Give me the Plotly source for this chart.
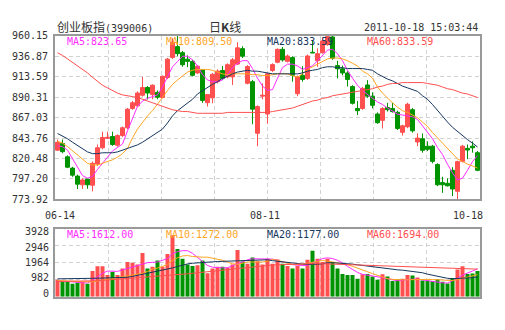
import plotly.graph_objects as go

# ---------------- data ----------------
trade_days = {
    "06": [14, 15, 16, 17, 20, 21, 22, 23, 24, 27, 28, 29, 30],
    "07": [1, 4, 5, 6, 7, 8, 11, 12, 13, 14, 15, 18, 19, 20, 21, 22, 25, 26, 27, 28, 29],
    "08": [1, 2, 3, 4, 5, 8, 9, 10, 11, 12, 15, 16, 17, 18, 19, 22, 23, 24, 25, 26, 29, 30, 31],
    "09": [1, 2, 5, 6, 7, 8, 9, 13, 14, 15, 16, 19, 20, 21, 22, 23, 26, 27, 28, 29, 30],
    "10": [10, 11, 12, 13, 14, 17, 18],
}
dates = [f"{m}-{d:02d}" for m, days in trade_days.items() for d in days]

open_ = [830.0, 837.5, 822.4, 809.5, 800.4, 790.5, 797.0, 790.0, 814.3, 832.7,
         843.5, 845.5, 835.6, 846.6, 855.5, 877.5, 880.5, 892.6, 901.4, 893.3,
         895.9, 890.0, 912.8, 935.7, 948.0, 941.1, 933.7, 931.2, 918.0, 921.3,
         884.1, 889.6, 908.0, 920.8, 913.5, 913.5, 928.1, 945.7, 906.2, 908.0,
         849.2, 891.5, 871.2, 920.8, 930.2, 944.9, 931.2, 935.5, 894.4, 915.3,
         911.7, 941.5, 932.0, 941.1, 950.2, 959.0, 926.4, 922.7, 918.0, 902.5,
         877.5, 877.5, 904.3, 891.5, 871.2, 864.0, 878.6, 877.5, 873.1, 850.3,
         856.6, 876.1, 839.3, 843.0, 834.5, 834.5, 813.6, 793.0, 792.2, 807.0,
         783.1, 817.2, 832.0, 834.5, 827.1]
high = [842.0, 842.0, 824.0, 811.0, 802.0, 798.0, 798.0, 817.0, 836.4, 851.0,
        851.0, 851.0, 848.0, 857.0, 878.0, 886.0, 897.0, 913.5, 903.0, 905.0,
        898.0, 915.0, 935.0, 957.6, 960.0, 943.0, 938.0, 933.0, 927.0, 922.0,
        894.0, 918.0, 922.0, 926.0, 929.0, 935.0, 953.0, 948.4, 927.0, 910.0,
        881.0, 906.0, 918.0, 929.0, 946.0, 947.5, 939.0, 937.0, 915.0, 925.7,
        939.0, 955.0, 946.0, 957.6, 960.1, 960.1, 931.9, 926.4, 920.0, 904.0,
        886.0, 902.0, 909.8, 895.9, 873.0, 879.0, 884.0, 884.0, 875.0, 859.0,
        884.0, 878.0, 849.2, 849.0, 840.0, 836.0, 815.0, 799.6, 797.8, 810.6,
        818.0, 836.0, 836.4, 840.0, 829.0]
low = [829.0, 826.5, 809.5, 799.6, 785.7, 785.7, 786.0, 783.0, 812.0, 831.0,
       843.0, 835.0, 834.0, 845.0, 854.0, 876.0, 879.0, 891.0, 887.8, 888.0,
       888.0, 889.0, 911.0, 934.0, 937.0, 925.0, 924.6, 914.0, 917.0, 884.0,
       879.7, 883.4, 906.0, 910.0, 912.0, 904.3, 927.0, 935.0, 905.0, 859.5,
       834.5, 887.8, 860.0, 919.0, 929.0, 931.0, 930.0, 908.0, 891.5, 908.0,
       910.0, 940.5, 925.0, 940.0, 949.0, 933.0, 911.7, 915.3, 902.5, 882.0,
       870.1, 876.0, 889.6, 877.5, 860.0, 854.7, 874.0, 872.8, 853.0, 846.6,
       855.0, 850.0, 834.5, 827.1, 829.0, 815.0, 789.0, 781.3, 788.6, 777.6,
       774.0, 816.0, 819.9, 827.1, 806.0]
close = [838.9, 828.3, 810.6, 801.5, 791.2, 796.0, 790.5, 815.0, 832.7, 844.4,
         844.5, 836.4, 846.6, 855.5, 876.7, 884.0, 895.1, 901.4, 895.1, 904.0,
         890.4, 914.2, 933.7, 953.2, 940.0, 927.4, 931.2, 915.3, 925.7, 886.7,
         893.3, 916.4, 920.1, 911.7, 927.4, 933.0, 946.6, 937.1, 925.3, 876.7,
         879.7, 892.5, 917.0, 927.5, 944.9, 932.8, 937.3, 915.3, 913.5, 910.6,
         937.3, 941.0, 940.0, 954.5, 959.4, 934.8, 922.7, 918.0, 910.6, 883.4,
         875.0, 900.4, 891.5, 881.1, 861.3, 877.5, 876.1, 873.9, 854.7, 857.7,
         882.3, 852.0, 843.7, 829.8, 830.9, 817.2, 790.5, 790.5, 789.3, 785.7,
         816.9, 834.5, 830.1, 832.7, 807.0]

ma5 = [835, 834, 830, 820, 810, 801, 798, 800, 808, 815,
       822, 829, 833, 837, 852, 866, 880, 886, 889, 891,
       893, 902, 913, 925, 931, 937, 937, 933, 926, 916,
       910, 908, 908, 910, 916, 924, 929, 932, 932, 923,
       912, 903, 898, 899, 912, 924, 928, 928, 926, 922,
       924, 926, 932, 938, 944, 945, 940, 932, 921, 912,
       904, 898, 893, 889, 885, 882, 878, 874, 871, 870,
       869, 868, 865, 858, 850, 843, 833, 825, 814, 804,
       796, 798, 807, 817, 823.65]
ma10 = [840, 838, 834, 829, 824, 819, 815, 813, 813, 815,
        817, 819, 822, 826, 832, 844, 854, 862, 869, 875,
        882, 890, 898, 905, 910, 915, 919, 921, 922, 922,
        922, 921, 919, 917, 916, 917, 917, 917, 917, 916,
        916, 915, 915, 916, 917, 917, 917, 915, 913, 917,
        922, 925, 928, 931, 934, 935, 935, 934, 932, 929,
        926, 920, 917, 912, 902, 895, 889, 884, 879, 875,
        873, 870, 867, 862, 857, 850, 844, 838, 832, 826,
        820, 817, 814, 812, 809.5]
ma20 = [849, 846, 843, 839, 835, 832, 828, 826, 826, 827,
        827, 827, 828, 830, 832, 834, 836, 839, 843, 847,
        850, 854, 861, 869, 875, 879, 883, 888, 894, 898,
        902, 905, 908, 912, 914, 917, 919, 920, 921, 920,
        920, 919, 918, 917, 917, 917, 917, 917, 917, 918,
        920, 921, 922, 924, 925, 925, 924, 924, 923, 923,
        923, 923, 922, 921, 917, 914, 911, 909, 906, 903,
        901, 899, 897, 892, 888, 882, 875, 868, 862, 856,
        851, 846, 842, 838, 833.59]
ma60 = [941, 938, 934, 930, 927, 923, 918, 913, 908, 904,
        901, 898, 895, 893, 892, 891, 890, 888, 886, 884,
        882, 880, 878, 876, 875, 874, 874, 873, 872, 872,
        872, 872, 872, 872, 873, 873, 873, 873, 873, 873,
        873, 873, 873, 874, 875, 876, 877, 878, 880, 882,
        884, 886, 887, 889, 890, 892, 893, 894, 895, 896,
        897, 898, 899, 900, 902, 903, 905, 906, 906, 907,
        907, 907, 907, 907, 906, 905, 904, 902, 900, 899,
        897, 895, 894, 892, 890]

volume = [972, 879, 842, 748, 823, 842, 748, 1477, 1758, 1758,
          1253, 1421, 1253, 1627, 2001, 1964, 1851, 2525, 1627, 1720,
          2094, 1720, 2468, 3550, 2749, 2188, 1851, 1777, 1814, 2094,
          1346, 1627, 1720, 1720, 1680, 1860, 2700, 2031, 1897, 2265,
          2048, 1863, 2188, 1907, 2150, 1907, 1777, 1627, 1777, 1627,
          2132, 2655, 2188, 2001, 2188, 2001, 1627, 1309, 1253, 1253,
          1029, 1290, 1309, 1159, 972, 1290, 1160, 900, 1000, 1030,
          1250, 1216, 1100, 930, 940, 900, 1000, 860, 760, 1080,
          1570, 1760, 1310, 1340, 1480]
vma5 = [920, 900, 880, 860, 840, 810, 785, 950, 1150, 1350,
        1480, 1470, 1460, 1540, 1627, 1720, 1814, 1900, 1963, 1980,
        2000, 2100, 2200, 2470, 2600, 2655, 2655, 2500, 2250, 2000,
        1800, 1700, 1664, 1664, 1664, 1800, 1907, 2000, 2132, 2188,
        2188, 2188, 2150, 2170, 2100, 2000, 1950, 1850, 1814, 1814,
        1800, 1950, 2094, 2200, 2240, 2200, 2100, 1950, 1750, 1550,
        1400, 1290, 1253, 1200, 1160, 1100, 1030, 960, 920, 950,
        1000, 1010, 1010, 960, 930, 900, 850, 800, 785, 900,
        1050, 1250, 1346, 1480, 1612]
vma10 = [930, 925, 920, 900, 880, 860, 845, 860, 900, 950,
         1000, 1040, 1080, 1140, 1200, 1260, 1300, 1350, 1450, 1600,
         1650, 1750, 1850, 2100, 2250, 2350, 2375, 2320, 2290, 2280,
         2280, 2230, 2190, 2100, 2000, 1900, 1870, 1950, 2000, 2000,
         2000, 2000, 2050, 2150, 2100, 2000, 1920, 1870, 1850, 1880,
         1920, 1970, 2040, 2090, 2060, 2000, 1960, 1900, 1850, 1750,
         1660, 1550, 1440, 1330, 1220, 1130, 1040, 1000, 975, 970,
         975, 990, 1000, 1000, 1000, 990, 970, 940, 920, 930,
         980, 1060, 1140, 1210, 1272]
vma20 = [1030, 1030, 1030, 1030, 1030, 1020, 1030, 1060, 1066, 1070,
         1080, 1090, 1100, 1110, 1120, 1170, 1230, 1290, 1330, 1390,
         1440, 1510, 1570, 1660, 1740, 1820, 1890, 1930, 1960, 1990,
         2000, 2010, 2030, 2040, 2050, 2070, 2090, 2100, 2110, 2120,
         2130, 2130, 2130, 2080, 2040, 2000, 1960, 1920, 1900, 1880,
         1860, 1850, 1870, 1900, 1960, 1960, 1950, 1930, 1900, 1880,
         1840, 1800, 1780, 1760, 1700, 1660, 1620, 1580, 1550, 1530,
         1500, 1450, 1410, 1380, 1300, 1240, 1160, 1100, 1060, 1040,
         1040, 1060, 1080, 1100, 1140]
vma60 = [880, 880, 880, 880, 880, 880, 880, 900, 920, 940,
         960, 980, 1000, 1020, 1040, 1060, 1080, 1100, 1120, 1140,
         1180, 1215, 1240, 1260, 1280, 1300, 1320, 1350, 1380, 1420,
         1440, 1470, 1500, 1530, 1560, 1600, 1640, 1670, 1700, 1740,
         1780, 1810, 1830, 1830, 1840, 1840, 1850, 1850, 1860, 1880,
         1900, 1910, 1910, 1900, 1890, 1880, 1870, 1860, 1850, 1840,
         1830, 1820, 1815, 1810, 1810, 1800, 1800, 1790, 1780, 1770,
         1760, 1750, 1740, 1730, 1720, 1710, 1700, 1690, 1680, 1670,
         1650, 1640, 1620, 1600, 1590]

price_ticks = [773.92, 797.20, 820.48, 843.76, 867.03, 890.31, 913.59, 936.87, 960.15]
volume_ticks = [0, 982, 1964, 2946, 3928]
price_label_values = [823.65, 809.50, 833.59, 833.59]
volume_label_values = [1612.00, 1272.00, 1177.00, 1694.00]
date_label_idx = [0, 42, 84]

# ---------------- styling ----------------
W, H = 505, 330
RED = "#ff4f4f"
GREEN = "#009400"
MA_COLORS = ["#ff2bff", "#ffa51f", "#16365e", "#ff4f4f"]
MA_NAMES = ["MA5", "MA10", "MA20", "MA60"]
MONO = "DejaVu Sans Mono"
CJK = "Noto Sans CJK SC"
GRID = "#d2d2d2"
FRAME = "#999999"

x = list(range(len(dates)))
n = len(dates)
vgrid = [-0.5 + k * n / 8 for k in range(1, 8)]


def px_x(p):
    return p / W


def px_y(p):
    return 1 - p / H


fig = go.Figure()

fig.add_trace(go.Candlestick(
    x=x, open=open_, high=high, low=low, close=close,
    increasing=dict(line=dict(color=RED, width=1), fillcolor=RED),
    decreasing=dict(line=dict(color=GREEN, width=1), fillcolor=GREEN),
    whiskerwidth=0, xaxis="x", yaxis="y", showlegend=False,
    text=dates, hoverinfo="text+y",
))
for ma, col, nm in zip([ma5, ma10, ma20, ma60], MA_COLORS, MA_NAMES):
    fig.add_trace(go.Scatter(x=x, y=ma, mode="lines", line=dict(color=col, width=1),
                             xaxis="x", yaxis="y", showlegend=False, name=nm))

vol_colors = [RED if c >= o else GREEN for o, c in zip(open_, close)]
fig.add_trace(go.Bar(x=x, y=volume, marker=dict(color=vol_colors, line=dict(width=0)),
                     width=0.8, xaxis="x2", yaxis="y2", showlegend=False))
for ma, col, nm in zip([vma5, vma10, vma20, vma60], MA_COLORS, MA_NAMES):
    fig.add_trace(go.Scatter(x=x, y=ma, mode="lines", line=dict(color=col, width=1),
                             xaxis="x2", yaxis="y2", showlegend=False, name=nm))

xdom = [px_x(55), px_x(480)]
common_x = dict(range=[-0.5, n - 0.5], domain=xdom, showline=True, linecolor=FRAME,
                linewidth=2, mirror=True, tickvals=vgrid, showticklabels=False,
                showgrid=True, gridcolor=GRID, griddash="4px,3px", gridwidth=1,
                ticks="", zeroline=False, fixedrange=True)

annotations = []
# header
annotations.append(dict(xref="paper", yref="paper", x=px_x(55), y=px_y(21.5), xanchor="left",
                        yanchor="middle", showarrow=False,
                        text="创业板指<span style='font-family:DejaVu Sans Mono;font-size:10px'>(399006)</span>",
                        font=dict(family=CJK, size=12, color="#333333")))
annotations.append(dict(xref="paper", yref="paper", x=px_x(225), y=px_y(21.5), xanchor="center",
                        yanchor="middle", showarrow=False, text="日<b>K</b>线",
                        font=dict(family=CJK, size=12, color="#333333")))
annotations.append(dict(xref="paper", yref="paper", x=px_x(480), y=px_y(22), xanchor="right",
                        yanchor="middle", showarrow=False, text="2011-10-18 15:03:44",
                        font=dict(family=MONO, size=10, color="#333333")))
# MA legends
leg_x = [65, 164, 265, 365]
for lx, nm, col, v in zip(leg_x, MA_NAMES, MA_COLORS, price_label_values):
    annotations.append(dict(xref="paper", yref="paper", x=px_x(lx), y=px_y(37), xanchor="left",
                            yanchor="middle", showarrow=False, text=f"{nm}:{v:.2f}",
                            font=dict(family=MONO, size=10, color=col)))
for lx, nm, col, v in zip(leg_x, MA_NAMES, MA_COLORS, volume_label_values):
    annotations.append(dict(xref="paper", yref="paper", x=px_x(lx), y=px_y(236.7), xanchor="left",
                            yanchor="middle", showarrow=False, text=f"{nm}:{v:.2f}",
                            font=dict(family=MONO, size=10, color=col)))
# date labels
shifts = [(2, "center"), (-3, "center"), (7, "right")]
for idx, (sh, anc) in zip(date_label_idx, shifts):
    annotations.append(dict(xref="x", yref="paper", x=idx, y=px_y(217), xanchor=anc,
                            yanchor="middle", showarrow=False, text=dates[idx], xshift=sh,
                            font=dict(family=MONO, size=10, color="#333333")))
# volume axis labels
vshift = [3.5, 2, 0, -2, -3]
for v, sh in zip(volume_ticks, vshift):
    annotations.append(dict(xref="paper", yref="y2", x=px_x(51), y=v, xanchor="right",
                            yanchor="middle", showarrow=False, text=str(v), yshift=sh,
                            font=dict(family=MONO, size=10, color="#333333")))

fig.update_layout(
    width=W, height=H, margin=dict(l=0, r=0, t=0, b=0),
    paper_bgcolor="white", plot_bgcolor="white",
    boxgap=0.2, boxgroupgap=0.0, bargap=0.2,
    xaxis=dict(**common_x, anchor="y", rangeslider=dict(visible=False)),
    xaxis2=dict(**common_x, anchor="y2", matches="x"),
    yaxis=dict(range=[price_ticks[0], price_ticks[-1]], domain=[px_y(200), px_y(31)],
               tickvals=price_ticks, ticktext=[f"{t:.2f}" for t in price_ticks],
               showline=True, linecolor=FRAME, linewidth=2, mirror=True,
               showgrid=True, gridcolor=GRID, griddash="4px,3px", gridwidth=1,
               ticks="", ticklabelstandoff=3, zeroline=False, anchor="x", fixedrange=True,
               tickfont=dict(family=MONO, size=10, color="#333333")),
    yaxis2=dict(range=[0, volume_ticks[-1]], domain=[px_y(300.7), px_y(230.3)],
                tickvals=volume_ticks, showticklabels=False,
                showline=True, linecolor=FRAME, linewidth=2, mirror=True,
                showgrid=True, gridcolor=GRID, griddash="4px,3px", gridwidth=1,
                ticks="", zeroline=False, anchor="x2", fixedrange=True),
    annotations=annotations,
    showlegend=False,
    hovermode="closest",
)

fig.write_html("out.html")
